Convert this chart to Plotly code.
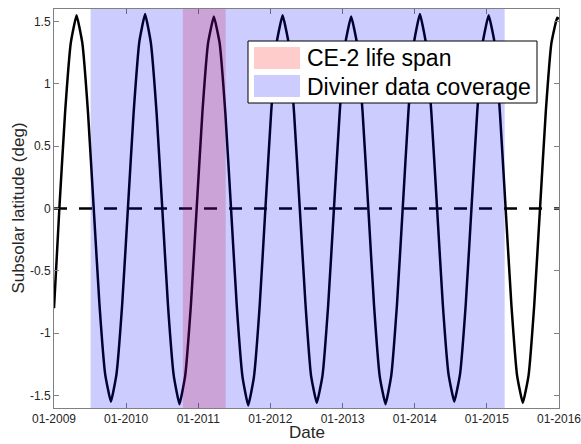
import pandas as pd
import plotly.graph_objects as go

# Subsolar latitude samples: days since 2009-01-01 and latitude (deg)
epoch = pd.Timestamp("2009-01-01")
sample_days = [
    0, 27, 56, 85, 114, 143, 172, 201, 230, 259, 288, 316, 345,
    374, 403, 432, 461, 490, 519, 548, 577, 606, 635, 664, 693,
    722, 751, 780, 809, 838, 867, 896, 925, 954, 983, 1012, 1041,
    1070, 1099, 1128, 1157, 1186, 1215, 1244, 1273, 1301, 1330, 1359, 1388,
    1417, 1446, 1475, 1504, 1533, 1562, 1591, 1620, 1649, 1678, 1707, 1736,
    1765, 1794, 1823, 1852, 1881, 1910, 1939, 1968, 1997, 2026, 2055, 2084,
    2113, 2142, 2171, 2200, 2229, 2257, 2286, 2315, 2344, 2373, 2402, 2431,
    2460, 2489, 2518, 2547, 2556,
]
subsolar_lat = [
    -0.80,
    0.00, 0.77, 1.33, 1.55, 1.33, 0.77, 0.00, -0.77, -1.33, -1.55, -1.33, -0.77,
    0.00, 0.77, 1.34, 1.56, 1.33, 0.77, 0.00, -0.78, -1.34, -1.57, -1.34, -0.77,
    0.00, 0.77, 1.33, 1.54, 1.33, 0.77, 0.00, -0.78, -1.35, -1.58, -1.35, -0.78,
    0.00, 0.77, 1.34, 1.55, 1.34, 0.77, 0.00, -0.77, -1.34, -1.56, -1.34, -0.77,
    0.00, 0.77, 1.33, 1.54, 1.33, 0.77, 0.00, -0.78, -1.35, -1.57, -1.34, -0.77,
    0.00, 0.78, 1.34, 1.56, 1.34, 0.77, 0.00, -0.77, -1.33, -1.55, -1.33, -0.77,
    0.00, 0.77, 1.34, 1.55, 1.34, 0.77, 0.00, -0.77, -1.34, -1.56, -1.34, -0.77,
    0.00, 0.77, 1.33, 1.53, 1.52,
]

# Mission periods
ce2_span = ["2010-10-15", "2011-05-20"]
diviner_span = ["2009-07-05", "2015-04-01"]
legend_labels = ["CE-2 life span", "Diviner data coverage"]

# Axes
x_range = ["2009-01-01", "2016-01-01"]
x_ticks = [f"{y}-01-01" for y in range(2009, 2017)]
y_range = [-1.6, 1.6]
y_ticks = [-1.5, -1, -0.5, 0, 0.5, 1, 1.5]
y_ticktext = ["-1.5", "-1", "-0.5", "0", "0.5", "1", "1.5"]
zero_level = 0
x_title = "Date"
y_title = "Subsolar latitude (deg)"

dates = epoch + pd.to_timedelta(sample_days, unit="D")
# a few hours of slack so the final January tick is inside the range
x_view = [pd.Timestamp(x_range[0]) - pd.Timedelta(hours=3),
          pd.Timestamp(x_range[1]) + pd.Timedelta(hours=3)]

RED_FILL = "rgba(255,0,0,0.2)"
BLUE_FILL = "rgba(0,0,255,0.2)"
FONT = "Liberation Sans, Arial, Helvetica, sans-serif"
AX_COLOR = "#808080"
TXT = "#262626"

W, H = 581, 444
L, R, T, B = 54, 22, 9, 36
PW, PH = W - L - R, H - T - B


def px(xp):
    return (xp - L) / PW


def py(yp):
    return 1 - (yp - T) / PH


fig = go.Figure()
fig.add_trace(go.Scatter(
    x=dates, y=subsolar_lat, mode="lines",
    line=dict(color="black", width=2.5, shape="spline", smoothing=0.35),
    showlegend=False, hoverinfo="skip",
))
fig.add_trace(go.Scatter(
    x=x_range, y=[zero_level, zero_level], mode="lines",
    line=dict(color="black", width=2.5, dash="13px,12px"),
    showlegend=False, hoverinfo="skip",
))

shapes = [
    dict(type="rect", xref="x", yref="paper", x0=ce2_span[0], x1=ce2_span[1],
         y0=0, y1=1, fillcolor=RED_FILL, line=dict(width=0), layer="above"),
    dict(type="rect", xref="x", yref="paper", x0=diviner_span[0], x1=diviner_span[1],
         y0=0, y1=1, fillcolor=BLUE_FILL, line=dict(width=0), layer="above"),
    # legend box
    dict(type="rect", xref="paper", yref="paper", x0=px(248), x1=px(537),
         y0=py(103), y1=py(41), fillcolor="white",
         line=dict(color="black", width=1), layer="above"),
    dict(type="rect", xref="paper", yref="paper", x0=px(254), x1=px(300),
         y0=py(69), y1=py(47), fillcolor=RED_FILL, line=dict(width=0), layer="above"),
    dict(type="rect", xref="paper", yref="paper", x0=px(254), x1=px(300),
         y0=py(97), y1=py(75), fillcolor=BLUE_FILL, line=dict(width=0), layer="above"),
]

annotations = [
    dict(xref="paper", yref="paper", x=px(305), y=py(58), text=legend_labels[0],
         showarrow=False, xanchor="left", yanchor="middle",
         font=dict(family=FONT, size=23, color="black")),
    dict(xref="paper", yref="paper", x=px(305), y=py(86.5), text=legend_labels[1],
         showarrow=False, xanchor="left", yanchor="middle",
         font=dict(family=FONT, size=23, color="black")),
    # axis titles
    dict(xref="paper", yref="paper", x=0.5, y=py(443), text=x_title,
         showarrow=False, xanchor="center", yanchor="bottom", borderpad=0,
         font=dict(family=FONT, size=17, color=TXT)),
    dict(xref="paper", yref="paper", x=px(18), y=0.5, text=y_title, textangle=-90,
         showarrow=False, xanchor="center", yanchor="middle",
         font=dict(family=FONT, size=17, color=TXT)),
]

fig.update_layout(
    width=W, height=H,
    margin=dict(l=L, r=R, t=T, b=B),
    paper_bgcolor="white", plot_bgcolor="white",
    font=dict(family=FONT, color=TXT),
    shapes=shapes, annotations=annotations,
    showlegend=False,
)
fig.update_xaxes(
    type="date", range=x_view, tickvals=x_ticks, tickformat="%m-%Y",
    ticks="inside", ticklen=5, tickcolor=AX_COLOR, tickwidth=1,
    showline=True, linecolor=AX_COLOR, linewidth=1, mirror="ticks",
    showgrid=False, zeroline=False, ticklabeloverflow="allow",
    tickfont=dict(family=FONT, size=12, color=TXT),
    automargin=False,
)
fig.update_yaxes(
    range=y_range, tickvals=y_ticks, ticktext=y_ticktext,
    ticks="inside", ticklen=5, tickcolor=AX_COLOR, tickwidth=1,
    showline=True, linecolor=AX_COLOR, linewidth=1, mirror="ticks",
    showgrid=False, zeroline=False,
    tickfont=dict(family=FONT, size=12, color=TXT),
    automargin=False,
)

fig.write_html("out.html")
